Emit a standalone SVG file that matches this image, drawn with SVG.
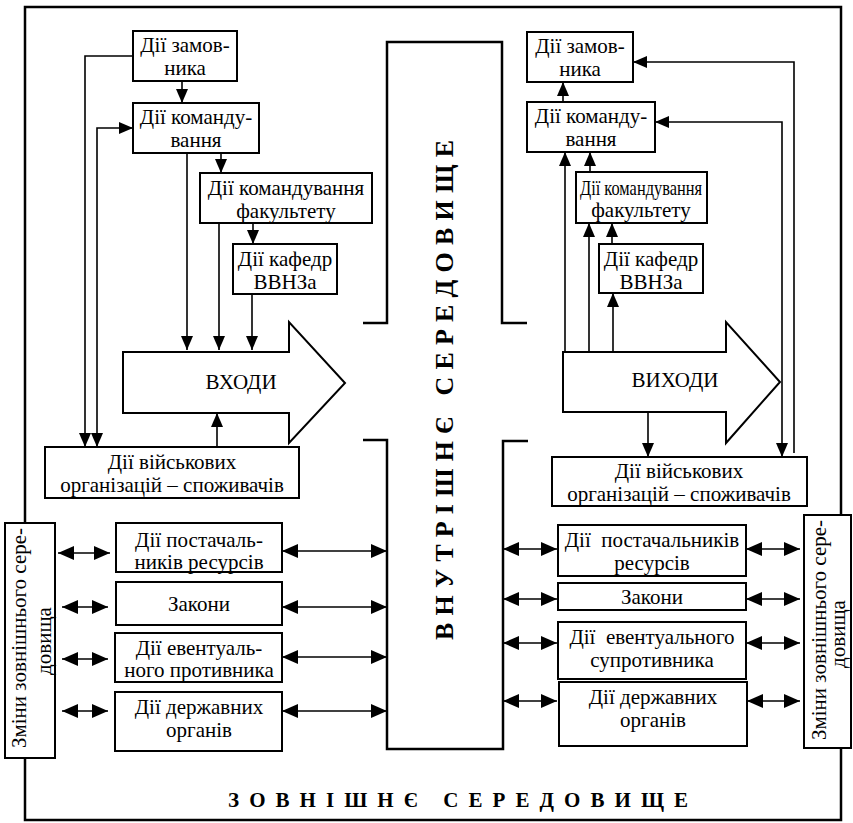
<svg xmlns="http://www.w3.org/2000/svg" width="853" height="823" viewBox="0 0 853 823">
<style>
.b{fill:#fff;stroke:#000;stroke-width:2}
.c{fill:none;stroke:#000;stroke-width:1.6}
.a{marker-end:url(#ah)}
.d{marker-start:url(#dh);marker-end:url(#dh)}
.fr{fill:none;stroke:#000;stroke-width:2.5}
</style>
<defs>
<marker id="ah" viewBox="0 0 14 12" refX="14" refY="6" markerWidth="14" markerHeight="12" markerUnits="userSpaceOnUse" orient="auto-start-reverse"><path d="M0,0 L14,6 L0,12 z"/></marker>
<marker id="dh" viewBox="0 0 16 14" refX="16" refY="7" markerWidth="16" markerHeight="14" markerUnits="userSpaceOnUse" orient="auto-start-reverse"><path d="M0,0 L16,7 L0,14 z"/></marker>
</defs>
<rect x="0" y="0" width="853" height="823" fill="#fff"/>
<rect class="fr" x="25" y="7" width="816" height="813"/>
<g id="inner-env">
<polyline class="fr" points="363,323 387,323 387,42 502,42 502,323 527,323"/>
<polyline class="fr" points="363,440 387,440 387,749 503,749 503,441 528,441"/>
<text font-family="Liberation Serif" font-size="26" font-weight="bold" text-anchor="middle" transform="translate(453,390) rotate(-90)" textLength="500" lengthAdjust="spacing" xml:space="preserve">В Н У Т Р І Ш Н Є   С Е Р Е Д О В И Щ Е</text>
</g>
<text font-family="Liberation Serif" font-size="21" font-weight="bold" text-anchor="middle" x="458" y="807" textLength="460" lengthAdjust="spacing" xml:space="preserve">З О В Н І Ш Н Є   С Е Р Е Д О В И Щ Е</text>

<g id="connectors">
<path class="c a" d="M133,56 H85 V447"/>
<path class="c" d="M97,447 V128 H133" marker-start="url(#ah)" marker-end="url(#ah)"/>
<path class="c a" d="M182,81 V103"/>
<path class="c a" d="M221,153 V173"/>
<path class="c a" d="M187,153 V350"/>
<path class="c a" d="M219,223 V350"/>
<path class="c a" d="M253,223 V244"/>
<path class="c a" d="M252,294 V350"/>
<path class="c a" d="M217,447 V413"/>

<path class="c a" d="M563,102 V82"/>
<path class="c a" d="M565,352 V152"/>
<path class="c a" d="M590,172 V152"/>
<path class="c a" d="M589,352 V223"/>
<path class="c a" d="M612,244 V223"/>
<path class="c a" d="M613,352 V293"/>
<path class="c a" d="M794,453 V62 H633"/>
<path class="c" d="M655,122 H782 V457" marker-start="url(#ah)" marker-end="url(#ah)"/>
<path class="c a" d="M648,412 V457"/>

<path class="c d" d="M58,553 H110"/>
<path class="c d" d="M282,551 H387"/>
<path class="c d" d="M62,607 H108"/>
<path class="c d" d="M282,607 H387"/>
<path class="c d" d="M62,659 H108"/>
<path class="c d" d="M282,657 H387"/>
<path class="c d" d="M62,711 H108"/>
<path class="c d" d="M282,711 H387"/>

<path class="c d" d="M503,549 H557"/>
<path class="c d" d="M746,549 H800"/>
<path class="c d" d="M503,599 H557"/>
<path class="c d" d="M746,599 H800"/>
<path class="c d" d="M503,643 H557"/>
<path class="c d" d="M746,643 H800"/>
<path class="c d" d="M503,701 H557"/>
<path class="c d" d="M747,701 H800"/>
</g>

<g id="l-zamovnyk"><rect class="b" x="133" y="31" width="104" height="50"/><text font-family="Liberation Serif" font-size="21" text-anchor="middle" x="185" y="52">Дії замов-</text><text font-family="Liberation Serif" font-size="21" text-anchor="middle" x="185" y="75">ника</text></g>
<g id="l-komanduvannia"><rect class="b" x="133" y="103" width="126" height="50"/><text font-family="Liberation Serif" font-size="21" text-anchor="middle" x="196" y="124">Дії команду-</text><text font-family="Liberation Serif" font-size="21" text-anchor="middle" x="196" y="147">вання</text></g>
<g id="l-fakultet"><rect class="b" x="200" y="173" width="172" height="50"/><text font-family="Liberation Serif" font-size="21" text-anchor="middle" x="286" y="195">Дії командування</text><text font-family="Liberation Serif" font-size="21" text-anchor="middle" x="286" y="218">факультету</text></g>
<g id="l-kafedry"><rect class="b" x="233" y="244" width="104" height="50"/><text font-family="Liberation Serif" font-size="21" text-anchor="middle" x="285" y="266">Дії кафедр</text><text font-family="Liberation Serif" font-size="21" text-anchor="middle" x="285" y="289">ВВНЗа</text></g>
<g id="vkhody"><polygon class="b" points="123,352 289,352 289,322 345,383 289,443 289,413 123,413"/><text font-family="Liberation Serif" font-size="21" text-anchor="middle" x="241" y="389">ВХОДИ</text></g>
<g id="l-viiskovi"><rect class="b" x="45" y="447" width="254" height="51"/><text font-family="Liberation Serif" font-size="21" text-anchor="middle" x="172" y="469">Дії військових</text><text font-family="Liberation Serif" font-size="21" text-anchor="middle" x="172" y="492">організацій – споживачів</text></g>

<g id="r-zamovnyk"><rect class="b" x="527" y="32" width="106" height="50"/><text font-family="Liberation Serif" font-size="21" text-anchor="middle" x="580" y="53">Дії замов-</text><text font-family="Liberation Serif" font-size="21" text-anchor="middle" x="580" y="76">ника</text></g>
<g id="r-komanduvannia"><rect class="b" x="527" y="102" width="128" height="50"/><text font-family="Liberation Serif" font-size="21" text-anchor="middle" x="591" y="123">Дії команду-</text><text font-family="Liberation Serif" font-size="21" text-anchor="middle" x="591" y="146">вання</text></g>
<g id="r-fakultet"><rect class="b" x="576" y="172" width="131" height="51"/><text font-family="Liberation Serif" font-size="21" text-anchor="middle" x="641" y="195" textLength="122" lengthAdjust="spacingAndGlyphs">Дії командування</text><text font-family="Liberation Serif" font-size="21" text-anchor="middle" x="641" y="217">факультету</text></g>
<g id="r-kafedry"><rect class="b" x="599" y="244" width="104" height="49"/><text font-family="Liberation Serif" font-size="21" text-anchor="middle" x="651" y="266">Дії кафедр</text><text font-family="Liberation Serif" font-size="21" text-anchor="middle" x="651" y="289">ВВНЗа</text></g>
<g id="vykhody"><polygon class="b" points="563,352 726,352 726,322 780,382 726,443 726,412 563,412"/><text font-family="Liberation Serif" font-size="21" text-anchor="middle" x="675" y="387">ВИХОДИ</text></g>
<g id="r-viiskovi"><rect class="b" x="552" y="457" width="255" height="49"/><text font-family="Liberation Serif" font-size="21" text-anchor="middle" x="679" y="478">Дії військових</text><text font-family="Liberation Serif" font-size="21" text-anchor="middle" x="679" y="501">організацій – споживачів</text></g>

<g id="l-postach"><rect class="b" x="116" y="523" width="166" height="49"/><text font-family="Liberation Serif" font-size="21" text-anchor="middle" x="199" y="547">Дії постачаль-</text><text font-family="Liberation Serif" font-size="21" text-anchor="middle" x="199" y="569">ників ресурсів</text></g>
<g id="l-zakony"><rect class="b" x="116" y="582" width="166" height="43"/><text font-family="Liberation Serif" font-size="21" text-anchor="middle" x="199" y="611">Закони</text></g>
<g id="l-protyvnyk"><rect class="b" x="115" y="633" width="167" height="49"/><text font-family="Liberation Serif" font-size="21" text-anchor="middle" x="199" y="655">Дії евентуаль-</text><text font-family="Liberation Serif" font-size="21" text-anchor="middle" x="199" y="677">ного противника</text></g>
<g id="l-derzh"><rect class="b" x="115" y="692" width="167" height="59"/><text font-family="Liberation Serif" font-size="21" text-anchor="middle" x="199" y="714">Дії державних</text><text font-family="Liberation Serif" font-size="21" text-anchor="middle" x="199" y="737">органів</text></g>

<g id="r-postach"><rect class="b" x="558" y="525" width="188" height="51"/><text font-family="Liberation Serif" font-size="21" text-anchor="middle" x="652" y="547" xml:space="preserve">Дії  постачальників</text><text font-family="Liberation Serif" font-size="21" text-anchor="middle" x="652" y="570">ресурсів</text></g>
<g id="r-zakony"><rect class="b" x="558" y="583" width="188" height="27"/><text font-family="Liberation Serif" font-size="21" text-anchor="middle" x="652" y="604">Закони</text></g>
<g id="r-protyvnyk"><rect class="b" x="558" y="622" width="188" height="57"/><text font-family="Liberation Serif" font-size="21" text-anchor="middle" x="652" y="644" xml:space="preserve">Дії  евентуального</text><text font-family="Liberation Serif" font-size="21" text-anchor="middle" x="652" y="667">супротивника</text></g>
<g id="r-derzh"><rect class="b" x="559" y="682" width="188" height="64"/><text font-family="Liberation Serif" font-size="21" text-anchor="middle" x="653" y="704">Дії державних</text><text font-family="Liberation Serif" font-size="21" text-anchor="middle" x="653" y="727">органів</text></g>

<g id="l-zminy"><rect class="b" x="5" y="523" width="50" height="235"/><text font-family="Liberation Serif" font-size="21" text-anchor="middle" transform="translate(26,638) rotate(-90)">Зміни зовнішнього сере-</text><text font-family="Liberation Serif" font-size="21" text-anchor="middle" transform="translate(51,641) rotate(-90)">довища</text></g>
<g id="r-zminy"><rect class="b" x="804" y="515" width="47" height="233"/><text font-family="Liberation Serif" font-size="21" text-anchor="middle" transform="translate(826,630) rotate(-90)">Зміни зовнішнього сере-</text><text font-family="Liberation Serif" font-size="21" text-anchor="middle" transform="translate(845,634) rotate(-90)">довища</text></g>
</svg>
